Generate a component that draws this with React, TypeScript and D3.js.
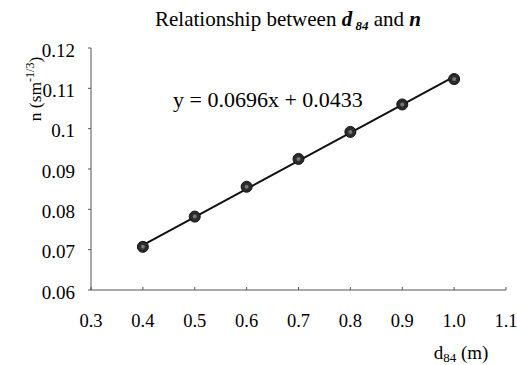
import React from "react";
import * as d3 from "d3";

const d84 = [0.4, 0.5, 0.6, 0.7, 0.8, 0.9, 1.0];
const nValues = [0.0707, 0.0782, 0.0856, 0.0925, 0.0992, 0.106, 0.1123];
const xTicks = [0.3, 0.4, 0.5, 0.6, 0.7, 0.8, 0.9, 1.0, 1.1];
const yTicks = [0.06, 0.07, 0.08, 0.09, 0.1, 0.11, 0.12];
const fitSlope = 0.0696;
const fitIntercept = 0.0433;

const W = 517;
const H = 365;
const serif = { fontFamily: `"Liberation Serif", "Times New Roman", Times, serif` };

const App = () => {
    const x = d3.scaleLinear().domain([0.3, 1.1]).range([91, 506]);
    const y = d3.scaleLinear().domain([0.06, 0.12]).range([290, 48]);
    const fit = d3
        .line<number>()
        .x(d => x(d))
        .y(d => y(fitSlope * d + fitIntercept));
    const xFmt = (v: number) => v.toFixed(1);
    const yFmt = (v: number) => String(+v.toFixed(2));

    return (
        <div style={{ position: "absolute", left: 0, top: 0 }}>
            <svg width={W} height={H}>
                <rect width={W} height={H} fill="#fff" />
                <text x={288} y={26} textAnchor="middle" fontSize={21} style={serif}>
                    Relationship between{" "}
                    <tspan fontWeight="bold" fontStyle="italic">d</tspan>
                    <tspan fontWeight="bold" fontStyle="italic" fontSize={13} dy={4}> 84</tspan>
                    <tspan dy={-4}>{"  "}and </tspan>
                    <tspan fontWeight="bold" fontStyle="italic">n</tspan>
                </text>

                {/* axes */}
                <line x1={x(0.3)} x2={x(1.1)} y1={y(0.06)} y2={y(0.06)} stroke="#555" strokeWidth={1} />
                <line x1={x(0.3)} x2={x(0.3)} y1={y(0.06)} y2={y(0.12)} stroke="#555" strokeWidth={1} />
                {xTicks.map(t => (
                    <g key={t}>
                        <line x1={x(t)} x2={x(t)} y1={y(0.06)} y2={y(0.06) - 3} stroke="#555" />
                        <text x={x(t)} y={y(0.06) + 37} textAnchor="middle" fontSize={18.5} style={serif}>
                            {xFmt(t)}
                        </text>
                    </g>
                ))}
                {yTicks.map(t => (
                    <g key={t}>
                        <line x1={x(0.3) - 3} x2={x(0.3)} y1={y(t)} y2={y(t)} stroke="#555" />
                        <text x={75} y={y(t) + 8.5} textAnchor="end" fontSize={19} style={serif}>
                            {yFmt(t)}
                        </text>
                    </g>
                ))}

                <text transform="translate(41,89) rotate(-90)" textAnchor="middle" fontSize={17.5} style={serif}>
                    n (sm
                    <tspan fontSize={12} dy={-7}>-1/3</tspan>
                    <tspan dy={7}>)</tspan>
                </text>

                <text x={461} y={359} textAnchor="middle" fontSize={19} style={serif}>
                    d<tspan fontSize={13} dy={3}>84</tspan>
                    <tspan dy={-3}> (m)</tspan>
                </text>

                {/* fitted line */}
                <path d={fit([0.4, 1.0]) ?? ""} fill="none" stroke="#111" strokeWidth={2} />

                {d84.map((v, i) => (
                    <g key={v}>
                        <circle cx={x(v)} cy={y(nValues[i])} r={5.5} fill="#2b2b2b" stroke="#111" strokeWidth={1} />
                        <circle cx={x(v)} cy={y(nValues[i])} r={2} fill="#777" />
                    </g>
                ))}

                <text x={173} y={107} fontSize={22} style={serif}>
                    y = 0.0696x + 0.0433
                </text>
            </svg>
        </div>
    );
};

export default App;
